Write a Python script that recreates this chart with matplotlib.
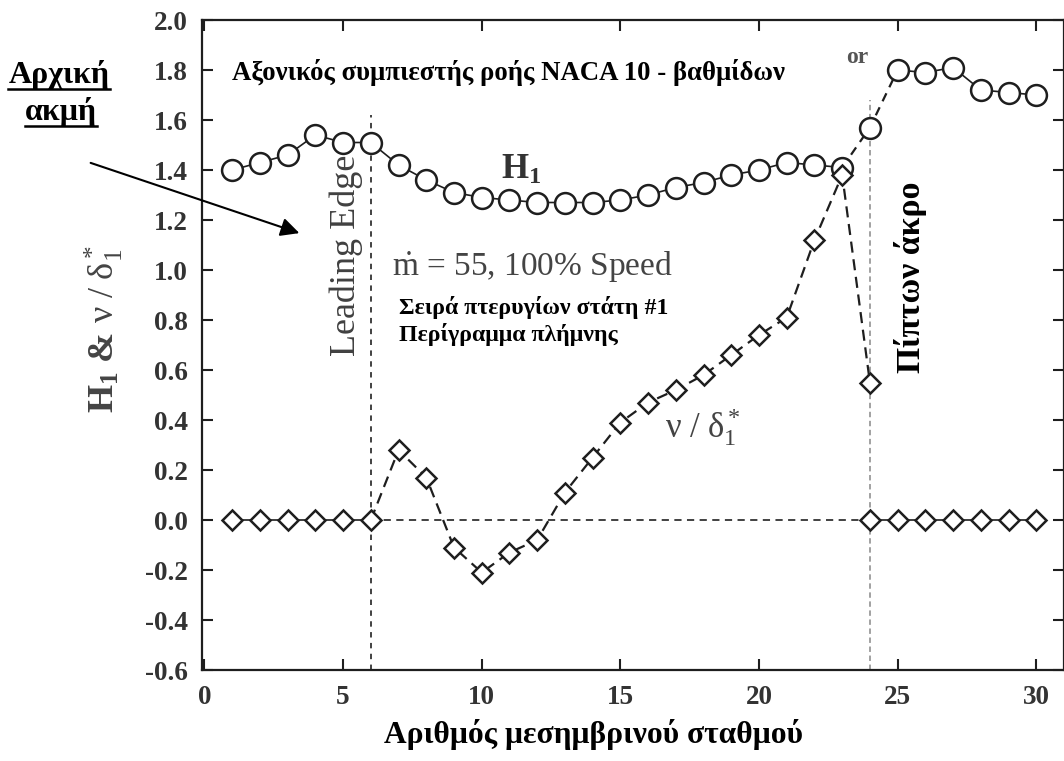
import matplotlib
matplotlib.use("Agg")
import matplotlib.pyplot as plt
from matplotlib.lines import Line2D
from matplotlib.patches import FancyArrowPatch

plt.rcParams["font.family"] = ["Liberation Serif", "DejaVu Serif"]
plt.rcParams["axes.unicode_minus"] = False
plt.rcParams["mathtext.fontset"] = "custom"
plt.rcParams["mathtext.rm"] = "Liberation Serif"
plt.rcParams["mathtext.it"] = "Liberation Serif:italic"
plt.rcParams["mathtext.bf"] = "Liberation Serif:bold"

# Meridional stations and measured boundary-layer quantities
stations = [1, 2, 3, 4, 5, 6, 7, 8, 9, 10, 11, 12, 13, 14, 15,
            16, 17, 18, 19, 20, 21, 22, 23, 24, 25, 26, 27, 28, 29, 30]
h1 = [1.40, 1.43, 1.46, 1.54, 1.51, 1.51, 1.42, 1.36, 1.31, 1.29,
      1.28, 1.27, 1.27, 1.27, 1.28, 1.30, 1.33, 1.35, 1.38, 1.40,
      1.43, 1.42, 1.41, 1.57, 1.80, 1.79, 1.81, 1.72, 1.71, 1.70]

nu_stations = [1, 2, 3, 4, 5, 6, 7, 8, 9, 10, 11, 12,
               13, 14, 15, 16, 17, 18, 19, 20, 21, 22, 23, 24]
nu_delta = [0.0, 0.0, 0.0, 0.0, 0.0, 0.0, 0.28, 0.17, -0.11, -0.21, -0.13, -0.08,
            0.11, 0.25, 0.39, 0.47, 0.52, 0.58, 0.66, 0.74, 0.81, 1.12, 1.38, 0.55]
nu_tail_stations = [24, 25, 26, 27, 28, 29, 30]
nu_tail = [0.0, 0.0, 0.0, 0.0, 0.0, 0.0, 0.0]

leading_edge = 6
trailing_edge = 24
leading_top = 1.62
trailing_top = 1.68

x_ticks = [0, 5, 10, 15, 20, 25, 30]
y_ticks = [-0.6, -0.4, -0.2, 0.0, 0.2, 0.4, 0.6, 0.8, 1.0, 1.2, 1.4, 1.6, 1.8, 2.0]

W, H = 1064, 761
fig = plt.figure(figsize=(W / 100, H / 100), dpi=100)
ax = fig.add_axes([201.7 / W, 1 - 670 / H, (W - 201.7) / W, 650 / H])
ax.set_xlim(-0.1, 31.0)
ax.set_ylim(-0.6, 2.0)

ink = "#1e1e1e"

# blade-row reference lines
ax.hlines(0, leading_edge, trailing_edge, colors="#333333", linestyles=(0, (4, 3)), lw=1.3, zorder=1)
ax.vlines(leading_edge, -0.6, leading_top, colors="#333333", linestyles=(0, (3, 3)), lw=1.3, zorder=1)
ax.vlines(trailing_edge, -0.6, trailing_top, colors="#9a9a9a", linestyles=(0, (3, 2)), lw=1.3, zorder=1)

# H1 curve: solid inside the passage, dashed across the trailing edge
ax.plot(stations[:23], h1[:23], "-", color=ink, lw=1.2, zorder=2)
ax.plot(stations[22:25], h1[22:25], color=ink, lw=1.6, ls=(0, (4, 3)), zorder=2)
ax.plot(stations[24:], h1[24:], "-", color=ink, lw=1.2, zorder=2)
ax.plot(stations, h1, ls="none", marker="o", ms=15, mfc="white", mec=ink, mew=1.8, zorder=4)

# nu / delta_1* curve
ax.plot(nu_stations[:6], nu_delta[:6], "-", color=ink, lw=1.2, zorder=2)
ax.plot(nu_stations[5:], nu_delta[5:], color=ink, lw=1.6, ls=(0, (5, 3)), zorder=2)
ax.plot(nu_tail_stations, nu_tail, "-", color=ink, lw=1.2, zorder=2)
ax.plot(nu_stations, nu_delta, ls="none", marker="D", ms=10, mfc="white", mec=ink, mew=1.8, zorder=5)
ax.plot(nu_tail_stations, nu_tail, ls="none", marker="D", ms=10, mfc="white", mec=ink, mew=1.8, zorder=5)

# axes styling
ax.set_xticks(x_ticks)
ax.set_yticks(y_ticks)
ax.set_yticklabels([f"{v:.1f}" for v in y_ticks])
ax.tick_params(direction="in", length=8, width=1.5, top=True, right=True,
               labelsize=19.5, labelcolor="#333333", color=ink)
ax.tick_params(axis="y", pad=10)
ax.tick_params(axis="x", pad=11)
for lab in ax.get_xticklabels() + ax.get_yticklabels():
    lab.set_fontweight("bold")
for sp in ax.spines.values():
    sp.set_linewidth(1.6)
    sp.set_color(ink)

# in-plot labels
ax.text(1.0, 1.79, "Αξονικός συμπιεστής ροής NACA 10 - βαθμίδων",
        fontsize=19.3, fontweight="bold", color="black", va="center", ha="left")
ax.text(23.95, 1.85, "or", fontsize=17, fontweight="bold", color="#555555", va="center", ha="right")
ax.text(10.7, 1.40, r"$\mathbf{H}_{\mathbf{1}}$", fontsize=25, color="#333333", va="center", ha="left")
ax.text(6.75, 1.01, r"$\dot{\mathrm{m}}$ = 55, 100% Speed", fontsize=24, color="#444444",
        va="center", ha="left")
ax.text(7.0, 0.85, "Σειρά πτερυγίων στάτη #1", fontsize=17.2, fontweight="bold", color="black",
        va="center", ha="left")
ax.text(7.0, 0.74, "Περίγραμμα πλήμνης", fontsize=17.2, fontweight="bold", color="black",
        va="center", ha="left")
ax.text(16.6, 0.37, r"$\mathrm{\nu\ /\ \delta}_1^*$", fontsize=25, color="#444444",
        va="center", ha="left")
ax.text(5.1, 1.06, "Leading Edge", fontsize=26, color="#404040", rotation=90,
        va="center", ha="center")
ax.text(25.45, 0.97, "Πίπτων άκρο", fontsize=24.3, fontweight="bold", color="black", rotation=90,
        va="center", ha="center")

# axis titles
fig.text(104 / W, 1 - 329 / H, r"$\mathbf{H}_{\mathbf{1}}$ & $\mathrm{\nu\ /\ \delta}_1^*$", fontsize=26,
         fontweight="bold", color="#444444", rotation=90, va="center", ha="center")
fig.text(594 / W, 1 - 735 / H, "Αριθμός μεσημβρινού σταθμού", fontsize=22.7, fontweight="bold",
         color="black", va="center", ha="center")

# leading-edge callout with underlined caption
cap1 = fig.text(59 / W, 1 - 75 / H, "Αρχική", fontsize=23, fontweight="bold", color="black",
                va="center", ha="center")
cap2 = fig.text(61 / W, 1 - 112 / H, "ακμή", fontsize=23, fontweight="bold", color="black",
                va="center", ha="center")
fig.canvas.draw()
renderer = fig.canvas.get_renderer()
for cap in (cap1, cap2):
    bb = cap.get_window_extent(renderer)
    y_line = bb.y0 + 1
    fig.add_artist(Line2D([bb.x0 / W, bb.x1 / W], [y_line / H, y_line / H],
                          transform=fig.transFigure, color="black", lw=1.8))

fig.add_artist(FancyArrowPatch(
    (88 / W, 1 - 162 / H), (302 / W, 1 - 234 / H), transform=fig.transFigure,
    arrowstyle="-|>", mutation_scale=28, color="black", lw=1.5))

fig.savefig("out.png", dpi=100)
